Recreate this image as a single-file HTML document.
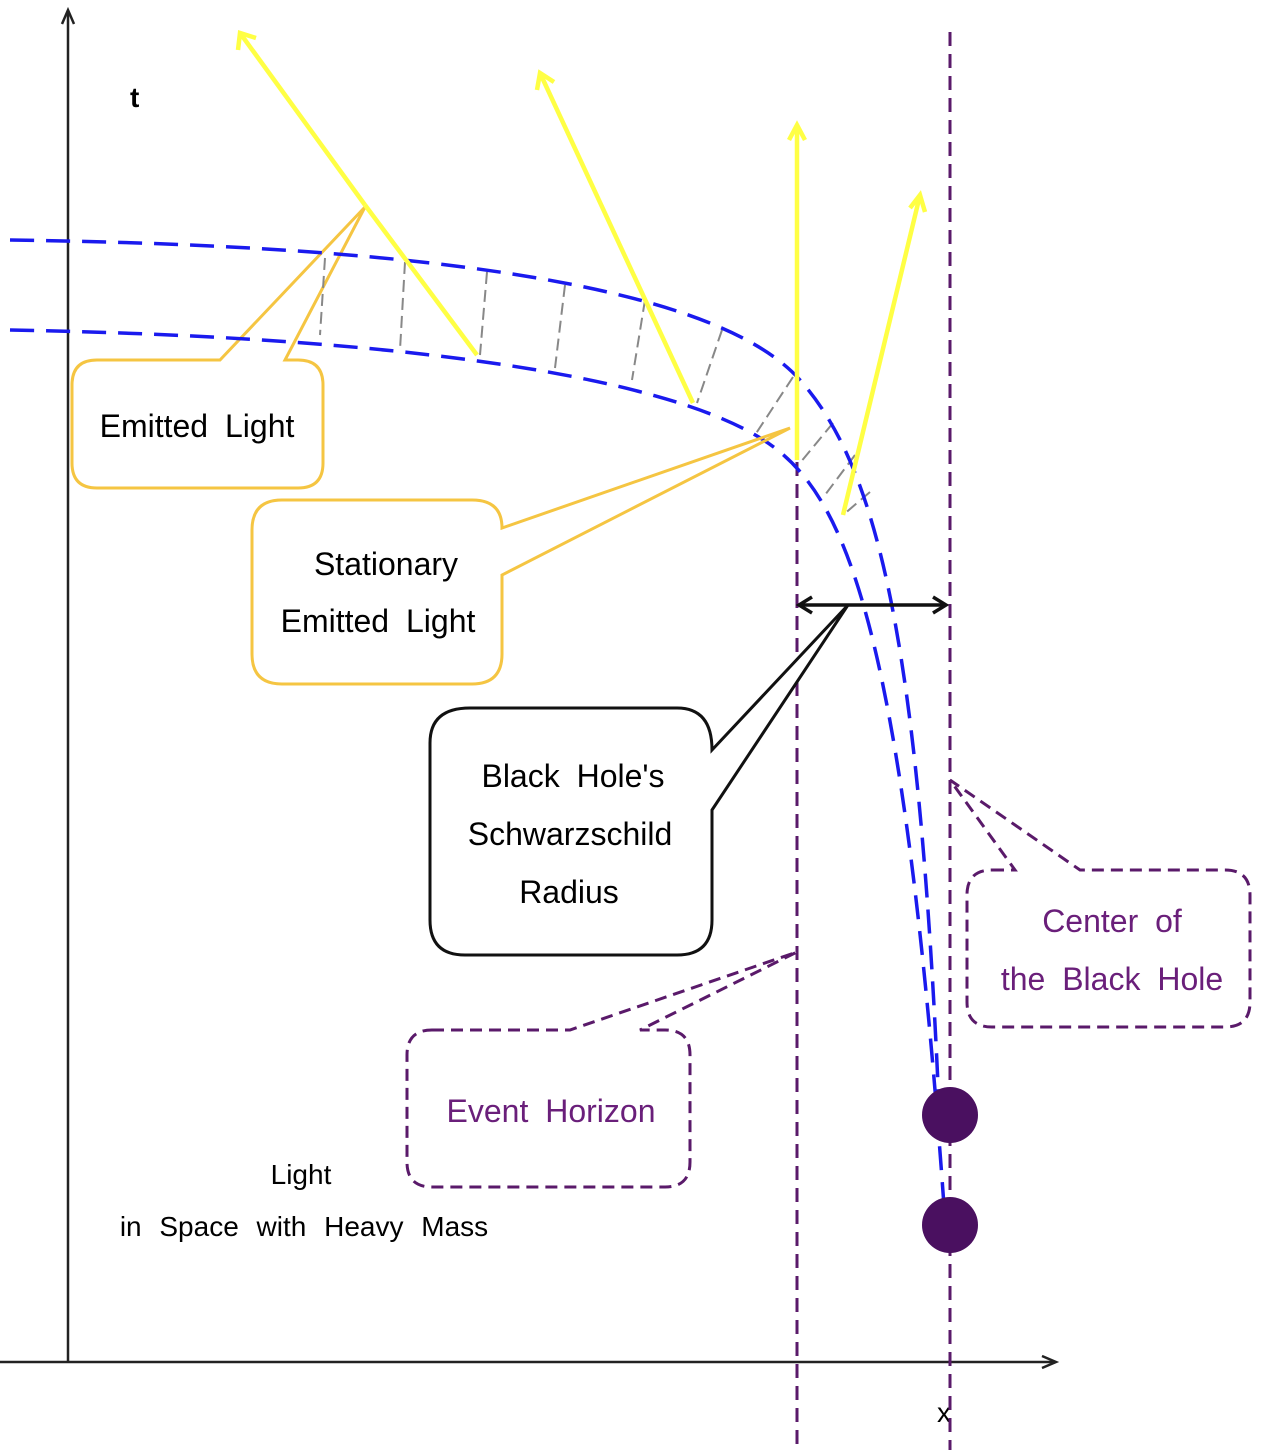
<!DOCTYPE html>
<html><head><style>body{margin:0;background:#fff}svg{display:block}text{font-family:"Liberation Sans",sans-serif}</style></head>
<body>
<svg width="1278" height="1456" viewBox="0 0 1278 1456" xmlns="http://www.w3.org/2000/svg">
<line x1="68" y1="1362" x2="68" y2="12" stroke="#222" stroke-width="2.5"/>
<path d="M62,24 L68,10 L74,24" fill="none" stroke="#222" stroke-width="2.5"/>
<line x1="0" y1="1362" x2="1055" y2="1362" stroke="#222" stroke-width="2.5"/>
<path d="M1042,1356 L1056,1362 L1042,1368" fill="none" stroke="#222" stroke-width="2.5"/>
<text x="130" y="107" font-size="28" font-weight="bold">t</text>
<text x="937" y="1422" font-size="28">x</text>
<line x1="797" y1="462" x2="797" y2="1450" stroke="#5a1a6a" stroke-width="3" stroke-dasharray="14,8"/>
<line x1="950" y1="32" x2="950" y2="1450" stroke="#5a1a6a" stroke-width="3" stroke-dasharray="14,8"/>
<path d="M97,360 L220,360 L365,207 L285,360 L298,360 Q323,360 323,385 L323,463 Q323,488 298,488 L97,488 Q72,488 72,463 L72,385 Q72,360 97,360 Z" fill="#fff" stroke="#f5c542" stroke-width="3"/>
<text x="197" y="437" font-size="32" text-anchor="middle" word-spacing="8">Emitted Light</text>
<g stroke="#888" stroke-width="2" stroke-dasharray="12,6">
<line x1="325" y1="258" x2="320" y2="335"/><line x1="405" y1="262" x2="400" y2="350"/>
<line x1="487" y1="272" x2="480" y2="355"/><line x1="565" y1="285" x2="555" y2="368"/>
<line x1="645" y1="300" x2="632" y2="380"/><line x1="722" y1="330" x2="697" y2="403"/>
<line x1="793" y1="377" x2="755" y2="435"/><line x1="833" y1="423" x2="800" y2="463"/>
<line x1="855" y1="455" x2="825" y2="495"/><line x1="870" y1="492" x2="843" y2="515"/>
</g>
<path d="M10,240 C 450,246 720,290 800,380 C 880,470 920,650 940,1130" fill="none" stroke="#1a1aee" stroke-width="3.5" stroke-dasharray="24,12"/>
<path d="M10,330 C 450,338 700,385 780,452 C 850,510 905,650 945,1220" fill="none" stroke="#1a1aee" stroke-width="3.5" stroke-dasharray="24,12"/>
<g stroke="#ffff44" stroke-width="4.5" fill="none">
<line x1="365" y1="205" x2="477" y2="355"/>
<line x1="365" y1="205" x2="240" y2="33"/><path d="M238,50 L240,33 L256,38"/>
<line x1="693" y1="403" x2="540" y2="73"/><path d="M537,90 L540,73 L554,82"/>
<line x1="797" y1="460" x2="797" y2="125"/><path d="M789,140 L797,125 L805,140"/>
<line x1="843" y1="515" x2="920" y2="195"/><path d="M910,208 L920,195 L925,212"/>
</g>
<circle cx="950" cy="1115" r="28" fill="#4a1060"/>
<circle cx="950" cy="1225" r="28" fill="#4a1060"/>
<line x1="799" y1="605" x2="946" y2="605" stroke="#111" stroke-width="3.5"/>
<path d="M812,597 L799,605 L812,613 M933,597 L946,605 L933,613" fill="none" stroke="#111" stroke-width="3.5"/>
<path d="M282,500 L472,500 Q502,500 502,528 L790,428 L502,575 L502,654 Q502,684 472,684 L282,684 Q252,684 252,654 L252,530 Q252,500 282,500 Z" fill="none" stroke="#f5c542" stroke-width="3"/>
<text x="386" y="575" font-size="32" text-anchor="middle">Stationary</text>
<text x="378" y="632" font-size="32" text-anchor="middle" word-spacing="8">Emitted Light</text>
<path d="M470,708 L677,708 Q712,708 712,750 L848,605 L712,810 L712,920 Q712,955 677,955 L465,955 Q430,955 430,920 L430,743 Q430,708 470,708 Z" fill="#fff" stroke="#111" stroke-width="3"/>
<text x="573" y="787" font-size="32" text-anchor="middle" word-spacing="8">Black Hole's</text>
<text x="570" y="845" font-size="32" text-anchor="middle">Schwarzschild</text>
<text x="569" y="903" font-size="32" text-anchor="middle">Radius</text>
<path d="M432,1030 L570,1030 L797,952 L640,1030 L665,1030 Q690,1030 690,1055 L690,1162 Q690,1187 665,1187 L432,1187 Q407,1187 407,1162 L407,1055 Q407,1030 432,1030 Z" fill="#fff" stroke="#5a1a6a" stroke-width="3" stroke-dasharray="12,7"/>
<text x="551" y="1122" font-size="32" fill="#6a1f7a" text-anchor="middle" word-spacing="8">Event Horizon</text>
<path d="M992,870 L1015,870 L950,780 L1080,870 L1225,870 Q1250,870 1250,895 L1250,1002 Q1250,1027 1225,1027 L992,1027 Q967,1027 967,1002 L967,895 Q967,870 992,870 Z" fill="#fff" stroke="#5a1a6a" stroke-width="3" stroke-dasharray="12,7"/>
<text x="1112" y="932" font-size="32" fill="#6a1f7a" text-anchor="middle" word-spacing="8">Center of</text>
<text x="1112" y="990" font-size="32" fill="#6a1f7a" text-anchor="middle" word-spacing="8">the Black Hole</text>
<text x="301" y="1184" font-size="28" text-anchor="middle">Light</text>
<text x="304" y="1236" font-size="28" text-anchor="middle" word-spacing="10">in Space with Heavy Mass</text>
</svg>
</body></html>
